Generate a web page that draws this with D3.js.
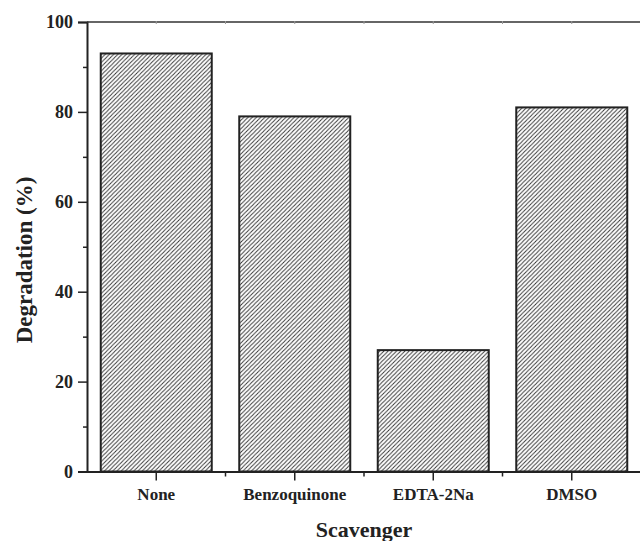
<!DOCTYPE html>
<html><head><meta charset="utf-8">
<script src="https://cdn.jsdelivr.net/npm/d3@7"></script>
<style>body{margin:0;background:#fff}svg{display:block}
svg text{font-family:"Liberation Serif","DejaVu Serif",serif;font-weight:bold;fill:#222}</style>
</head><body>
<script>
const categories = ["None", "Benzoquinone", "EDTA-2Na", "DMSO"];
const values = [93, 79, 27, 81];
const yTicks = [0, 20, 40, 60, 80, 100];
const yMinorTicks = [10, 30, 50, 70, 90];

(function () {
const W = 640, H = 541;
const svg = d3.select("body").append("svg").attr("width", W).attr("height", H);
const pLeft = 87, pRight = 641, pTop = 22, pBottom = 471.5;
const font = "Liberation Serif";

const s = 4.2;
const defs = svg.append("defs");
const pat = defs.append("pattern").attr("id", "hatch").attr("patternUnits", "userSpaceOnUse")
  .attr("width", s).attr("height", s);
pat.append("rect").attr("width", s).attr("height", s).attr("fill", "#fff");
pat.append("path").attr("d", `M0,${s} L${s},0 M${-s/2},${s/2} L${s/2},${-s/2} M${s/2},${s*1.5} L${s*1.5},${s/2}`)
  .attr("stroke", "#333").attr("stroke-width", 0.95);

const xc = d3.scaleBand().domain(categories).range([pLeft, pRight]);
const y = d3.scaleLinear().domain([0, 100]).range([pBottom, pTop]);

// bars
svg.append("g").selectAll("rect").data(categories).join("rect")
  .attr("x", d => xc(d) + (xc.bandwidth() - 111) / 2)
  .attr("width", 111)
  .attr("y", (d, i) => y(values[i]))
  .attr("height", (d, i) => y(0) - y(values[i]))
  .attr("fill", "url(#hatch)")
  .attr("stroke", "#222").attr("stroke-width", 2);

// y axis
const ya = svg.append("g").attr("transform", `translate(${pLeft},0)`)
  .call(d3.axisLeft(y).tickValues(yTicks).tickSize(9).tickPadding(5).tickFormat(d3.format("d")));
ya.select(".domain").attr("stroke", "#222").attr("stroke-width", 2);
ya.selectAll(".tick line").attr("stroke", "#222").attr("stroke-width", 1.5);
ya.selectAll("text").attr("font-family", font).attr("font-weight", "bold").attr("font-size", 18).attr("fill", "#222");
const yam = svg.append("g").attr("transform", `translate(${pLeft},0)`)
  .call(d3.axisLeft(y).tickValues(yMinorTicks).tickSize(4).tickFormat(""));
yam.select(".domain").remove();
yam.selectAll(".tick line").attr("stroke", "#222").attr("stroke-width", 1.5);

// x axis
const xa = svg.append("g").attr("transform", `translate(0,${pBottom})`)
  .call(d3.axisBottom(xc).tickSize(9).tickPadding(7).tickSizeOuter(0));
xa.select(".domain").attr("stroke", "#222").attr("stroke-width", 2);
xa.selectAll(".tick line").attr("stroke", "#222").attr("stroke-width", 1.5);
xa.selectAll("text").attr("font-family", font).attr("font-weight", "bold").attr("font-size", 17).attr("fill", "#222");
const bounds = categories.slice(1).map(d => xc(d));
svg.append("g").selectAll("line").data(bounds).join("line")
  .attr("x1", d => d).attr("x2", d => d).attr("y1", pBottom).attr("y2", pBottom + 5)
  .attr("stroke", "#222").attr("stroke-width", 1.5);

// top axis line
svg.append("line").attr("x1", pLeft).attr("x2", W).attr("y1", pTop).attr("y2", pTop)
  .attr("stroke", "#333").attr("stroke-width", 1.5);
const topTicks = categories.map(d => xc(d) + xc.bandwidth() / 2).concat(bounds);
svg.append("g").selectAll("line").data(topTicks).join("line")
  .attr("x1", d => d).attr("x2", d => d).attr("y1", pTop - 1).attr("y2", pTop + 2)
  .attr("stroke", "#999").attr("stroke-width", 1);

// axis titles
svg.append("text").attr("x", (pLeft + pRight) / 2).attr("y", 537).attr("text-anchor", "middle")
  .attr("font-family", font).attr("font-weight", "bold").attr("font-size", 22).attr("fill", "#222")
  .text("Scavenger");
svg.append("text").attr("transform", `translate(32,260) rotate(-90)`)
  .attr("text-anchor", "middle")
  .attr("font-family", font).attr("font-weight", "bold").attr("font-size", 23).attr("fill", "#222")
  .text("Degradation (%)");
})();
</script>
</body></html>
